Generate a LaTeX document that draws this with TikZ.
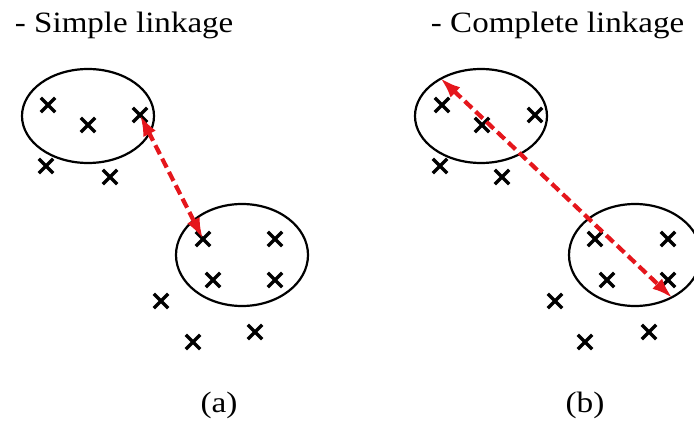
\documentclass[tikz,border=0pt]{standalone}
\usepackage{fontspec}
\setmainfont{Liberation Serif}
\usetikzlibrary{arrows.meta,shapes.geometric,shapes.misc}
\definecolor{linkred}{HTML}{E5161C}
\tikzset{clus/.style={draw,ellipse,line width=2.2pt,inner sep=0pt,minimum width=132pt,minimum height=94pt},obs/.style={draw,cross out,line width=3.3pt,inner sep=0pt,minimum size=11pt},ttl/.style={anchor=base west,font=\fontsize{29.5}{32}\selectfont,xscale=1.12},lbl/.style={anchor=base,font=\fontsize{29.5}{32}\selectfont,xscale=1.13},dist/.style={{Latex[length=21pt,width=14pt]}-{Latex[length=21pt,width=14pt]},dash pattern=on 10pt off 5pt,line width=4.2pt,draw=linkred}}

\begin{document}
\begin{tikzpicture}[x=1pt,y=-1pt]
\useasboundingbox (0,0) rectangle (694,425);
\clip (0,0) rectangle (694,425);
% (a) simple linkage
\node[ttl] (ta) at (11,33) {- Simple linkage};
\node[clus] (ca1) at (88,116) {};
\node[clus,minimum height=102pt] (ca2) at (242,255) {};
\node[obs] (a1) at (48,105) {};
\node[obs] (a2) at (88,125) {};
\node[obs] (a3) at (140,115) {};
\node[obs] (a4) at (46,166) {};
\node[obs] (a5) at (110,177) {};
\node[obs] (a6) at (203,239) {};
\node[obs] (a7) at (275,239) {};
\node[obs] (a8) at (213,280) {};
\node[obs] (a9) at (275,280) {};
\node[obs] (a10) at (161,301) {};
\node[obs] (a11) at (193,342) {};
\node[obs] (a12) at (255,332) {};
\node[lbl] (la) at (219,412) {(a)};
\draw[dist] (a3.center)--(a6.center);
% (b) complete linkage
\node[ttl] (tb) at (427,33) {- Complete linkage};
\node[clus] (cb1) at (481,116) {};
\node[clus,minimum height=102pt] (cb2) at (635,255) {};
\node[obs] (b1) at (442,105) {};
\node[obs] (b2) at (482,125) {};
\node[obs] (b3) at (535,115) {};
\node[obs] (b4) at (440,166) {};
\node[obs] (b5) at (502,177) {};
\node[obs] (b6) at (595,239) {};
\node[obs] (b7) at (668,239) {};
\node[obs] (b8) at (607,280) {};
\node[obs] (b9) at (668,280) {};
\node[obs] (b10) at (555,301) {};
\node[obs] (b11) at (585,342) {};
\node[obs] (b12) at (649,332) {};
\node[lbl] (lb) at (585,412) {(b)};
\draw[dist] (cb1.137)--(cb2.-49);
\end{tikzpicture}
\end{document}
